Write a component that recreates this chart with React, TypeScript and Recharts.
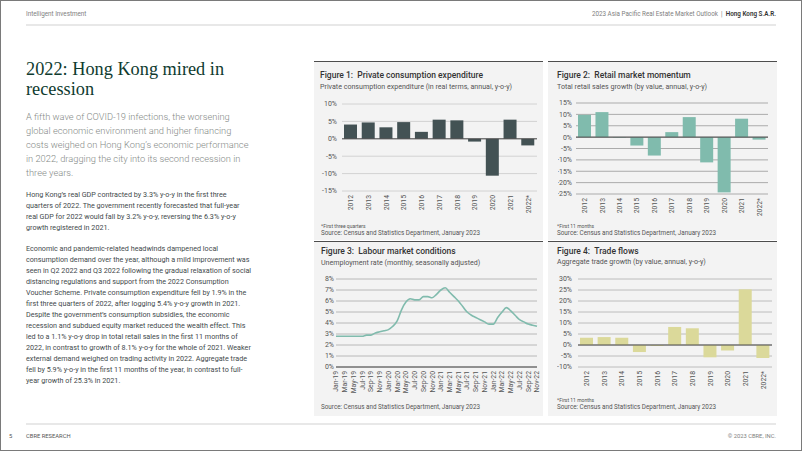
import React from "react";
import {
  BarChart,
  Bar,
  LineChart,
  Line,
  XAxis,
  YAxis,
  CartesianGrid,
  ReferenceLine,
} from "recharts";

const SANS = "Roboto, 'Liberation Sans', sans-serif";
const SERIF = "'Liberation Serif', 'DejaVu Serif', serif";

// annual categories shared by figures 1, 2 and 4
const YEARS = ["2012", "2013", "2014", "2015", "2016", "2017", "2018", "2019", "2020", "2021", "2022*"];
const PCE = [4.1, 4.7, 3.3, 4.8, 2.0, 5.5, 5.3, -0.8, -10.6, 5.5, -1.9];
const RETAIL = [9.8, 11.0, -0.2, -3.7, -8.1, 2.2, 8.8, -11.1, -24.3, 8.1, -1.1];
const TRADE = [3.3, 3.6, 3.3, -3.2, -0.4, 8.2, 7.6, -5.6, -2.5, 25.3, -5.9];

const PCE_TICKS = [-15, -10, -5, 0, 5, 10];
const RETAIL_TICKS = [-25, -20, -15, -10, -5, 0, 5, 10, 15];
const TRADE_TICKS = [-10, -5, 0, 5, 10, 15, 20, 25, 30];
const UNEMP_TICKS = [0, 1, 2, 3, 4, 5, 6, 7, 8];

// monthly unemployment rate, Jan-19 .. Nov-22
const MONTHS = [
  "Jan-19", "Feb-19", "Mar-19", "Apr-19", "May-19", "Jun-19", "Jul-19", "Aug-19", "Sep-19", "Oct-19", "Nov-19", "Dec-19",
  "Jan-20", "Feb-20", "Mar-20", "Apr-20", "May-20", "Jun-20", "Jul-20", "Aug-20", "Sep-20", "Oct-20", "Nov-20", "Dec-20",
  "Jan-21", "Feb-21", "Mar-21", "Apr-21", "May-21", "Jun-21", "Jul-21", "Aug-21", "Sep-21", "Oct-21", "Nov-21", "Dec-21",
  "Jan-22", "Feb-22", "Mar-22", "Apr-22", "May-22", "Jun-22", "Jul-22", "Aug-22", "Sep-22", "Oct-22", "Nov-22",
];
const UNEMP = [
  2.8, 2.8, 2.8, 2.8, 2.8, 2.8, 2.8, 2.9, 2.9, 3.1, 3.2, 3.3,
  3.4, 3.7, 4.2, 5.2, 5.9, 6.2, 6.1, 6.1, 6.4, 6.4, 6.3, 6.6,
  7.0, 7.2, 6.8, 6.4, 6.0, 5.5, 5.0, 4.7, 4.5, 4.3, 4.1, 3.9,
  3.9, 4.5, 5.0, 5.4, 5.1, 4.7, 4.3, 4.1, 3.9, 3.8, 3.7,
];

const LEAD = [
  "A fifth wave of COVID-19 infections, the worsening",
  "global economic environment and higher financing",
  "costs weighed on Hong Kong’s economic performance",
  "in 2022, dragging the city into its second recession in",
  "three years.",
];
const PARA1 = [
  "Hong Kong’s real GDP contracted by 3.3% y-o-y in the first three",
  "quarters of 2022. The government recently forecasted that full-year",
  "real GDP for 2022 would fall by 3.2% y-o-y, reversing the 6.3% y-o-y",
  "growth registered in 2021.",
];
const PARA2 = [
  "Economic and pandemic-related headwinds dampened local",
  "consumption demand over the year, although a mild improvement was",
  "seen in Q2 2022 and Q3 2022 following the gradual relaxation of social",
  "distancing regulations and support from the 2022 Consumption",
  "Voucher Scheme. Private consumption expenditure fell by 1.9% in the",
  "first three quarters of 2022, after logging 5.4% y-o-y growth in 2021.",
  "Despite the government’s consumption subsidies, the economic",
  "recession and subdued equity market reduced the wealth effect. This",
  "led to a 1.1% y-o-y drop in total retail sales in the first 11 months of",
  "2022, in contrast to growth of 8.1% y-o-y for the whole of 2021. Weaker",
  "external demand weighed on trading activity in 2022. Aggregate trade",
  "fell by 5.9% y-o-y in the first 11 months of the year, in contrast to full-",
  "year growth of 25.3% in 2021.",
];

const SOURCE = "Source: Census and Statistics Department, January 2023";

function T({ x, y, size, color = "#333", weight = 400, family = SANS, right, children }: any) {
  const style: any = {
    position: "absolute",
    top: y - size * 0.6,
    fontSize: size,
    lineHeight: `${size * 1.2}px`,
    color,
    fontWeight: weight,
    fontFamily: family,
    whiteSpace: "nowrap",
  };
  if (right !== undefined) style.right = 802 - right;
  else style.left = x;
  return <div style={style}>{children}</div>;
}

function RotTick({ x, y, payload }: any) {
  return (
    <text
      x={x}
      y={y}
      transform={`rotate(-90, ${x}, ${y})`}
      textAnchor="end"
      dy="0.35em"
      fontSize={6.8}
      fill="#555"
      fontFamily={SANS}
    >
      {payload.value}
    </text>
  );
}

// plot box given in page coordinates, chart is placed so its plot area lands there
function place(l: number, t: number, r: number, b: number, yW: number, xH: number) {
  const mt = 5;
  const mr = 8;
  const left = l - yW;
  return {
    style: { position: "absolute" as const, left, top: t - mt },
    width: Math.round(r - left + mr),
    height: Math.round(b - t + mt + xH),
    margin: { top: mt, right: mr, bottom: 0, left: 0 },
  };
}

function YearBars({ values, ticks, color, grid, box, tickGap }: any) {
  const data = YEARS.map((year, i) => ({ year, v: values[i] }));
  const p = place(box[0], box[1], box[2], box[3], box[4], 24);
  return (
    <div style={p.style}>
      <BarChart width={p.width} height={p.height} data={data} margin={p.margin}>
        <CartesianGrid vertical={false} stroke={grid} />
        <XAxis
          dataKey="year"
          interval={0}
          axisLine={false}
          tickLine={false}
          tickSize={0}
          tickMargin={4}
          height={24}
          tick={<RotTick />}
        />
        <YAxis
          width={box[4]}
          domain={[ticks[0], ticks[ticks.length - 1]]}
          ticks={ticks}
          interval={0}
          tickFormatter={(v: number) => `${v}%`}
          axisLine={false}
          tickLine={false}
          tickSize={0}
          tickMargin={tickGap}
          tick={{ fontSize: 7, fill: "#555", fontFamily: SANS }}
        />
        <Bar dataKey="v" fill={color} barSize={13} isAnimationActive={false} />
        <ReferenceLine y={0} stroke="#4a4a4a" strokeWidth={1} />
      </BarChart>
    </div>
  );
}

function UnempLine() {
  const data = MONTHS.map((m, i) => ({ m, v: UNEMP[i] }));
  const p = place(336, 279, 536.7, 367, 13, 28);
  return (
    <div style={p.style}>
      <LineChart width={p.width} height={p.height} data={data} margin={p.margin}>
        <CartesianGrid vertical={false} stroke="#b8b8b8" />
        <XAxis
          dataKey="m"
          interval={1}
          axisLine={false}
          tickLine={false}
          tickSize={0}
          tickMargin={4}
          height={28}
          tick={<RotTick />}
        />
        <YAxis
          width={13}
          domain={[0, 8]}
          ticks={UNEMP_TICKS}
          interval={0}
          tickFormatter={(v: number) => `${v}%`}
          axisLine={false}
          tickLine={false}
          tickSize={0}
          tickMargin={2}
          tick={{ fontSize: 7, fill: "#555", fontFamily: SANS }}
        />
        <ReferenceLine y={0} stroke="#4a4a4a" strokeWidth={1} />
        <Line
          type="monotone"
          dataKey="v"
          stroke="#80bbad"
          strokeWidth={1.6}
          dot={false}
          isAnimationActive={false}
        />
      </LineChart>
    </div>
  );
}

function Panel({ left, top, width, height }: any) {
  return (
    <div
      style={{
        position: "absolute",
        left,
        top,
        width,
        height,
        background: "#f3f3f3",
        borderTop: "1.5px solid #4d4d4d",
        boxSizing: "border-box",
      }}
    />
  );
}

export default function App() {
  return (
    <div
      style={{
        position: "absolute",
        left: 0,
        top: 0,
        width: 802,
        height: 451,
        background: "#fff",
        overflow: "hidden",
        fontFamily: SANS,
      }}
    >
      {/* header */}
      <T x={26} y={15} size={6.3} color="#808080">Intelligent Investment</T>
      <T right={776} y={15} size={6.3} color="#808080">
        2023 Asia Pacific Real Estate Market Outlook&nbsp;&nbsp;|&nbsp;&nbsp;
        <span style={{ color: "#333", fontWeight: 600 }}>Hong Kong S.A.R.</span>
      </T>
      <div style={{ position: "absolute", left: 26, top: 24, width: 750, height: 2, background: "#e8e8e8" }} />

      {/* left text column */}
      <T x={26} y={70} size={18.3} color="#0f3b2f" family={SERIF}>2022: Hong Kong mired in</T>
      <T x={26} y={90} size={18.3} color="#0f3b2f" family={SERIF}>recession</T>
      {LEAD.map((s, i) => (
        <T key={s} x={26} y={117 + i * 14} size={9.3} weight={300} color="#858a87">{s}</T>
      ))}
      {PARA1.map((s, i) => (
        <T key={s} x={26} y={195 + i * 11} size={7.2} color="#3f4a4c">{s}</T>
      ))}
      {PARA2.map((s, i) => (
        <T key={s} x={26} y={249 + i * 11} size={7.2} color="#3f4a4c">{s}</T>
      ))}

      {/* chart panels */}
      <Panel left={314} top={61} width={229} height={179} />
      <Panel left={548} top={61} width={229} height={179} />
      <Panel left={314} top={241} width={229} height={175} />
      <Panel left={548} top={241} width={229} height={175} />

      <T x={320} y={75} size={8.5} weight={500} color="#333">Figure 1:&nbsp;&nbsp;Private consumption expenditure</T>
      <T x={320} y={87} size={7.1} color="#555">Private consumption expenditure (in real terms, annual, y-o-y)</T>
      <YearBars values={PCE} ticks={PCE_TICKS} color="#435254" grid="#d2d2d2" box={[341.7, 104.3, 536.7, 191, 28]} tickGap={5} />
      <T x={321} y={226} size={5} color="#555">*First three quarters</T>
      <T x={321} y={234} size={6.3} color="#555">{SOURCE}</T>

      <T x={557} y={75} size={8.5} weight={500} color="#333">Figure 2:&nbsp;&nbsp;Retail market momentum</T>
      <T x={557} y={87} size={7.1} color="#555">Total retail sales growth (by value, annual, y-o-y)</T>
      <YearBars values={RETAIL} ticks={RETAIL_TICKS} color="#80bbad" grid="#ababab" box={[575.7, 102.7, 767.7, 193.3, 18]} tickGap={4} />
      <T x={557} y={226} size={5} color="#555">*First 11 months</T>
      <T x={557} y={234} size={6.3} color="#555">{SOURCE}</T>

      <T x={321} y={251} size={8.5} weight={500} color="#333">Figure 3:&nbsp;&nbsp;Labour market conditions</T>
      <T x={321} y={263} size={7.1} color="#555">Unemployment rate (monthly, seasonally adjusted)</T>
      <UnempLine />
      <T x={321} y={408} size={6.3} color="#555">{SOURCE}</T>

      <T x={557} y={251} size={8.5} weight={500} color="#333">Figure 4:&nbsp;&nbsp;Trade flows</T>
      <T x={557} y={262} size={7.1} color="#555">Aggregate trade growth (by value, annual, y-o-y)</T>
      <YearBars values={TRADE} ticks={TRADE_TICKS} color="#dbd99a" grid="#bcbcbc" box={[578, 279.3, 771.7, 367.7, 21]} tickGap={6} />
      <T x={557} y={400} size={5} color="#555">*First 11 months</T>
      <T x={557} y={408} size={6.3} color="#555">{SOURCE}</T>

      {/* footer */}
      <div style={{ position: "absolute", left: 26, top: 423, width: 750, height: 2, background: "#e8e8e8" }} />
      <T x={9} y={436} size={5.8} color="#555">5</T>
      <T x={26} y={436} size={5.8} color="#555">CBRE RESEARCH</T>
      <T right={776} y={436} size={5.8} color="#808080">© 2023 CBRE, INC.</T>

      <div
        style={{
          position: "absolute",
          left: 0,
          top: 0,
          width: 802,
          height: 451,
          boxSizing: "border-box",
          border: "1px solid #7a7a7a",
          pointerEvents: "none",
        }}
      />
    </div>
  );
}
